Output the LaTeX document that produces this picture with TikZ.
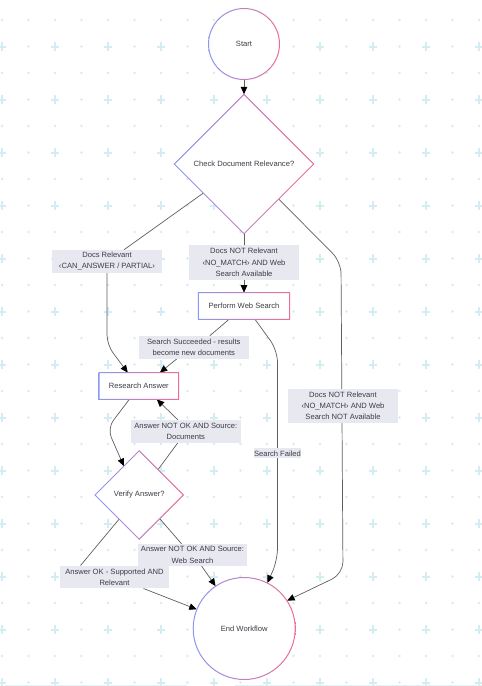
\documentclass[tikz,border=0pt]{standalone}
\usepackage{fontspec}
\setmainfont{Liberation Sans}
\usetikzlibrary{shapes.geometric,arrows.meta,calc}
\definecolor{gridc}{RGB}{212,237,242}
\definecolor{gl}{RGB}{138,152,242}
\definecolor{gr}{RGB}{240,108,148}
\definecolor{lblc}{RGB}{232,232,240}
\definecolor{txt}{RGB}{60,60,70}
\definecolor{edgec}{RGB}{95,95,95}
\pgfdeclarelayer{edges}
\pgfdeclarelayer{bg}
\pgfsetlayers{bg,edges,main}
\tikzset{
  every node/.style={font=\fontsize{7.6pt}{11.3pt}\selectfont, text=txt},
  startend/.style={circle, fill=white, inner sep=0pt},
  procbox/.style={rectangle, fill=white, inner sep=0pt, minimum height=26.3pt},
  decision/.style={diamond, fill=white, inner sep=0pt, aspect=1},
  lbl/.style={fill=lblc, inner sep=0pt, align=center},
  conn/.style={draw=edgec, line width=0.7pt, rounded corners=10pt},
  arr/.style={conn, -{Triangle[length=7.5pt,width=6.5pt,color=black]}},
  gradline/.style={left color=gl, right color=gr, even odd rule},
}
\begin{document}
\begin{tikzpicture}[x=1pt,y=-1pt]
\useasboundingbox (0,0) rectangle (482,686);
\begin{pgfonlayer}{bg}
\fill[white] (0,0) rectangle (482,686);
\foreach \i in {0,...,18}{\foreach \j in {0,...,25}{
  \pgfmathtruncatemacro\p{(1-mod(\i,2))*mod(\j,2)}
  \ifnum\p=1
    \draw[gridc, line width=2pt] (2+26.5*\i-4.4, 20+26.5*\j) -- ++(8.8,0) (2+26.5*\i, 20+26.5*\j-4.4) -- ++(0,8.8);
  \else
    \fill[gridc] (2+26.5*\i, 20+26.5*\j) circle (1.35pt);
  \fi}}
\draw[gridc!70, line width=0.8pt] (5,685.5) -- (187,685.5) (235,685.5) -- (482,685.5);
\end{pgfonlayer}

% nodes
\node[startend, minimum size=71pt] (start) at (244,44) {Start};
\node[decision, minimum width=139pt, minimum height=139pt] (check) at (244,164) {Check Document Relevance?};
\node[procbox, minimum width=91pt] (web) at (244,306) {Perform Web Search};
\node[procbox, minimum width=79pt] (research) at (138.8,386) {Research Answer};
\node[decision, minimum width=88pt, minimum height=88pt] (verify) at (139.2,495) {Verify Answer?};
\node[startend, minimum size=102pt] (end) at (244.2,628.5) {End Workflow};

% labels
\node[lbl, minimum width=109.4pt, minimum height=22.7pt] (l1) at (107,261.3) {Docs Relevant\\‹CAN\_ANSWER / PARTIAL›};
\node[lbl, minimum width=110.3pt, minimum height=35pt] (l2) at (244,262.5) {Docs NOT Relevant\\‹NO\_MATCH› AND Web\\Search Available};
\node[lbl, minimum width=109.7pt, minimum height=22.7pt] (l3) at (193.8,347.3) {Search Succeeded - results\\become new documents};
\node[lbl, minimum width=47pt, minimum height=10pt] (l5) at (277.5,453.3) {Search Failed};
\node[lbl, minimum width=109.4pt, minimum height=33.7pt] (l6) at (343,405.8) {Docs NOT Relevant\\‹NO\_MATCH› AND Web\\Search NOT Available};
\node[lbl, minimum width=109.7pt, minimum height=22.7pt] (l8) at (185.8,431.3) {Answer NOT OK AND Source:\\Documents};
\node[lbl, minimum width=108.4pt, minimum height=21.7pt] (l9) at (192.5,554.8) {Answer NOT OK AND Source:\\Web Search};
\node[lbl, minimum width=109pt, minimum height=22.6pt] (l10) at (114.5,577) {Answer OK - Supported AND\\Relevant};

% gradient outlines
\shade[gradline] (start.center) circle (36pt) (start.center) circle (35pt);
\shade[gradline] (end.center) circle (51.5pt) (end.center) circle (50.5pt);
\foreach \b in {web,research}{
\shade[gradline] ([shift={(-.5pt,-.5pt)}]\b.south west) rectangle ([shift={(.5pt,.5pt)}]\b.north east)
  ([shift={(.5pt,.5pt)}]\b.south west) rectangle ([shift={(-.5pt,-.5pt)}]\b.north east);}
\foreach \d in {check,verify}{
\shade[gradline] ([yshift=.7pt]\d.north) -- ([xshift=.7pt]\d.east) -- ([yshift=-.7pt]\d.south) -- ([xshift=-.7pt]\d.west) -- cycle
  ([yshift=-.7pt]\d.north) -- ([xshift=-.7pt]\d.east) -- ([yshift=.7pt]\d.south) -- ([xshift=.7pt]\d.west) -- cycle;}

% connectors
\begin{pgfonlayer}{edges}
\draw[arr] (start) -- (check);
\draw[conn] (check) -- ($(l1.north)+(17,0)$);
\draw[arr] (l1.south) -- ($(l1.south)+(0,72)$) -- ($(research.north)+(-11,0)$);
\draw[arr] (check) -- (web);
\draw[conn] ($(web.south)+(-15,0)$) -- ($(l3.north)+(16,0)$);
\draw[arr] ($(l3.south)+(-17,0)$) -- ($(research.north)+(21,0)$);
\draw[arr, rounded corners=12pt] ($(web.south)+(11,0)$) -- ($(web.south)+(33.5,31)$) -- ($(l5)+(0,107)$) -- (end.63);
\draw[arr, rounded corners=12pt] (check) -- ($(l6)+(-2,-144)$) -- ($(l6)+(0,168)$) -- (end.33);
\draw[arr] ($(research.south)+(-9.5,0)$) -- ($(research.south)+(-31.5,29)$) -- (verify.118);
\draw[conn] (verify) -- ($(l8.south)+(-8,0)$);
\draw[arr] ($(l8.north)+(-8,0)$) -- ($(research.south)+(18,0)$);
\draw[conn] (verify) -- ($(l9.north)+(-11,0)$);
\draw[arr] ($(l9.south)+(9,0)$) -- (end.124);
\draw[conn] (verify) -- ($(l10.north)+(-34,0)$);
\draw[arr] ($(l10.south)+(29,0)$) -- (end.158);
\end{pgfonlayer}
\end{tikzpicture}
\end{document}
